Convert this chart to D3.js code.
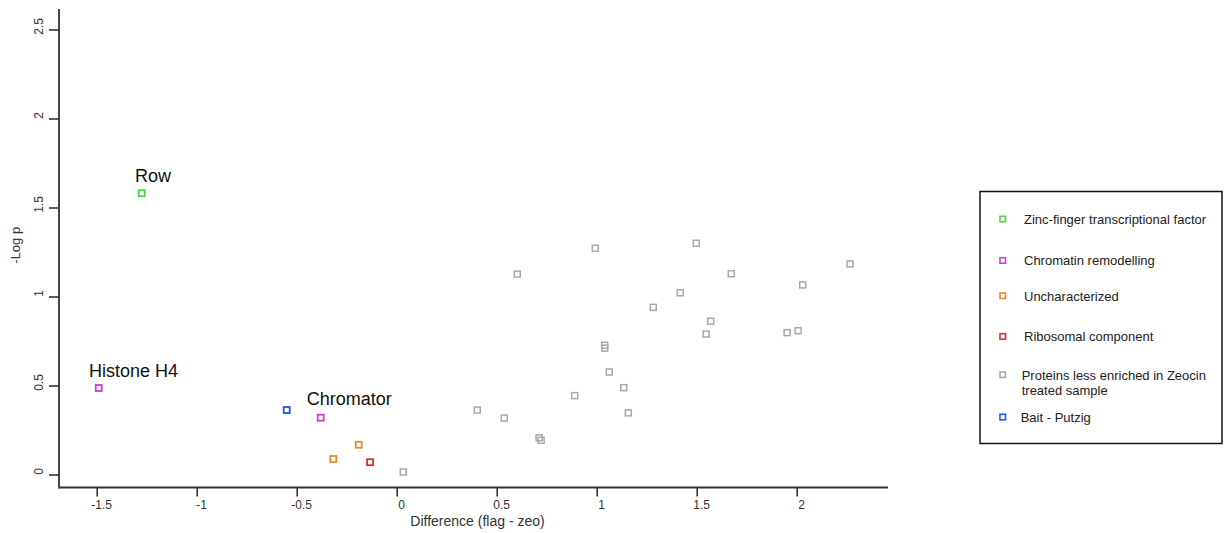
<!DOCTYPE html>
<html>
<head>
<meta charset="utf-8">
<script src="https://cdn.jsdelivr.net/npm/d3@7"></script>
<style>
  html, body { margin: 0; padding: 0; background: #fff; }
  svg { display: block; font-family: "Liberation Sans", Arial, Helvetica, sans-serif; }
</style>
</head>
<body>
<svg id="chart" width="1224" height="533"></svg>
<script>
// Protein groups shown in the legend (in legend order)
const categories = [
  "Zinc-finger transcriptional factor",
  "Chromatin remodelling",
  "Uncharacterized",
  "Ribosomal component",
  "Proteins less enriched in Zeocin treated sample",
  "Bait - Putzig"
];
const categoryLegendLines = [
  ["Zinc-finger transcriptional factor"],
  ["Chromatin remodelling"],
  ["Uncharacterized"],
  ["Ribosomal component"],
  ["Proteins less enriched in Zeocin", "treated sample"],
  ["Bait - Putzig"]
];
const categoryColors = ["#45d83a", "#c93fd8", "#e8892c", "#d4302e", "#a9a9a9", "#2456ec"];

// Difference (flag - zeo) per protein
const diffValues = [
  -1.275, -1.49, -0.38, -0.19, -0.317, -0.133, -0.55,
  0.033, 0.603, 0.993, 1.498, 1.673, 2.267, 2.030, 1.418, 1.283, 1.570, 1.547,
  1.952, 2.007, 1.040, 1.040, 1.063, 1.135, 0.890, 1.158, 0.403, 0.538, 0.712, 0.722
];
// -Log p per protein
const logPValues = [
  1.580, 0.486, 0.319, 0.167, 0.087, 0.069, 0.362,
  0.014, 1.126, 1.271, 1.299, 1.128, 1.183, 1.065, 1.021, 0.939, 0.861, 0.789,
  0.797, 0.808, 0.726, 0.710, 0.576, 0.488, 0.443, 0.346, 0.362, 0.317, 0.206, 0.192
];
// Index into categories for each protein
const pointCategory = [
  0, 1, 1, 2, 2, 3, 5,
  4, 4, 4, 4, 4, 4, 4, 4, 4, 4, 4,
  4, 4, 4, 4, 4, 4, 4, 4, 4, 4, 4, 4
];
// Named proteins
const pointLabels = [
  "Row", "Histone H4", "Chromator", "", "", "", "",
  "", "", "", "", "", "", "", "", "", "", "",
  "", "", "", "", "", "", "", "", "", "", "", ""
];

const xTicks = [-1.5, -1, -0.5, 0, 0.5, 1, 1.5, 2];
const yTicks = [0, 0.5, 1, 1.5, 2, 2.5];
const xTitle = "Difference (flag - zeo)";
const yTitle = "-Log p";

// ---- layout ----
const svg = d3.select("#chart");
const frame = { left: 59, right: 888, top: 9, bottom: 487.5 };
const x = d3.scaleLinear().domain([-1.5, 2]).range([96.7, 796.7]);
const y = d3.scaleLinear().domain([0, 2.5]).range([474.5, 29.5]);
const axisColor = "#333";
const fmt = d => String(d);

// axis lines (L-shaped frame)
svg.append("line")
  .attr("x1", frame.left).attr("x2", frame.right)
  .attr("y1", frame.bottom).attr("y2", frame.bottom)
  .attr("stroke", axisColor).attr("stroke-width", 1.8);
svg.append("line")
  .attr("x1", frame.left).attr("x2", frame.left)
  .attr("y1", frame.top).attr("y2", frame.bottom + 0.9)
  .attr("stroke", axisColor).attr("stroke-width", 1.8);

// x axis ticks and labels
const gx = svg.append("g")
  .attr("transform", `translate(0,${frame.bottom})`)
  .call(d3.axisBottom(x).tickValues(xTicks).tickFormat(fmt).tickSize(9).tickSizeOuter(0).tickPadding(4));
gx.select(".domain").remove();
gx.selectAll(".tick line").attr("stroke", axisColor).attr("stroke-width", 1.6);
gx.selectAll(".tick text")
  .attr("fill", "#333").attr("font-size", 12).attr("dx", 4.5)
  .style("font-family", "'Liberation Sans', Arial, sans-serif");

// y axis ticks and rotated labels
const gy = svg.append("g")
  .attr("transform", `translate(${frame.left},0)`)
  .call(d3.axisLeft(y).tickValues(yTicks).tickFormat(fmt).tickSize(10).tickSizeOuter(0));
gy.select(".domain").remove();
gy.selectAll(".tick line").attr("stroke", axisColor).attr("stroke-width", 1.6);
gy.selectAll(".tick text")
  .attr("fill", "#333").attr("font-size", 12)
  .attr("x", null).attr("dy", null)
  .attr("text-anchor", "middle")
  .attr("transform", "translate(-16,-3.5) rotate(-90)")
  .style("font-family", "'Liberation Sans', Arial, sans-serif");

// axis titles
svg.append("text")
  .attr("x", (frame.left + frame.right) / 2 + 4)
  .attr("y", 526)
  .attr("text-anchor", "middle")
  .attr("font-size", 14)
  .attr("fill", "#333")
  .text(xTitle);
svg.append("text")
  .attr("transform", `translate(19.5,${(frame.top + frame.bottom) / 2 - 3}) rotate(-90)`)
  .attr("text-anchor", "middle")
  .attr("font-size", 13)
  .attr("fill", "#333")
  .text(yTitle);

// points: grey background group first, coloured groups on top
const points = diffValues.map((d, i) => ({
  x: d, y: logPValues[i], cat: pointCategory[i], label: pointLabels[i]
}));
const ordered = points.slice().sort((a, b) => (b.cat === 4) - (a.cat === 4));
const side = 6;
svg.append("g").selectAll("rect")
  .data(ordered)
  .join("rect")
  .attr("x", d => x(d.x) - side / 2)
  .attr("y", d => y(d.y) - side / 2)
  .attr("width", side).attr("height", side)
  .attr("fill", "none")
  .attr("stroke", d => categoryColors[d.cat])
  .attr("stroke-width", d => d.cat === 4 ? 1.5 : 1.8);

// protein name annotations
const labelOffset = { "Row": [-6.7, -11], "Histone H4": [-9.7, -11.3], "Chromator": [-14, -12.7] };
svg.append("g").selectAll("text")
  .data(points.filter(d => d.label))
  .join("text")
  .attr("x", d => x(d.x) + labelOffset[d.label][0])
  .attr("y", d => y(d.y) + labelOffset[d.label][1])
  .attr("font-size", 18)
  .attr("fill", "#111")
  .text(d => d.label);

// legend
const legend = svg.append("g");
legend.append("rect")
  .attr("x", 980).attr("y", 191.5).attr("width", 242).attr("height", 252)
  .attr("fill", "#fff").attr("stroke", "#111").attr("stroke-width", 1.5);
const legendY = [219.3, 260.7, 296, 336.7, 375, 417.3];
const legendTextX = [1024, 1024, 1024, 1024, 1021.7, 1020.7];
const item = legend.selectAll("g.item")
  .data(categories)
  .join("g").attr("class", "item");
item.append("rect")
  .attr("x", 1003 - 3).attr("y", (d, i) => legendY[i] - 3)
  .attr("width", 5.5).attr("height", 5.5)
  .attr("fill", "none")
  .attr("stroke", (d, i) => categoryColors[i])
  .attr("stroke-width", 1.6);
item.append("text")
  .attr("x", (d, i) => legendTextX[i])
  .attr("y", (d, i) => legendY[i] + 4.5)
  .attr("font-size", 13)
  .attr("fill", "#222")
  .selectAll("tspan")
  .data((d, i) => categoryLegendLines[i])
  .join("tspan")
  .attr("x", function () { return this.parentNode.getAttribute("x"); })
  .attr("dy", (d, j) => j === 0 ? 0 : 15)
  .text(d => d);
</script>
</body>
</html>
